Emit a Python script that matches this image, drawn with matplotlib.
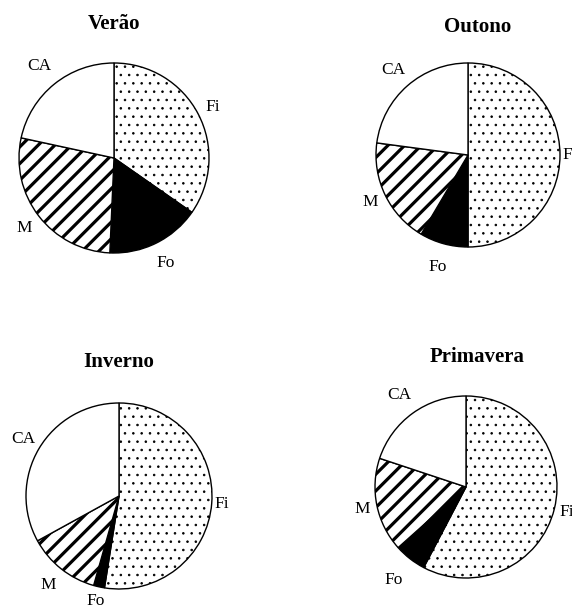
import numpy as np
import matplotlib
matplotlib.use('Agg')
import matplotlib.pyplot as plt

plt.rcParams['font.family'] = ['Liberation Serif', 'DejaVu Serif']
plt.rcParams['hatch.linewidth'] = 0.6

# parts of each pie, clockwise from 12 o'clock (percent)
parts = ['Fi', 'Fo', 'M', 'CA']
verao = [34.7, 16.0, 27.7, 21.6]
outono = [50.0, 8.5, 18.6, 22.9]
inverno = [52.5, 1.9, 12.6, 33.0]
primavera = [57.7, 5.7, 16.7, 19.9]
seasons = ['Verão', 'Outono', 'Inverno', 'Primavera']

# styles
faces = ['white', 'black', 'white', 'white']
hatches = ['..', None, '//', None]
hatch_lw = [0.6, 1.0, 2.3, 1.0]

# layout (pixels): pie centre, radius, title offset, label distances
W, H = 572, 611
centres = [(114, 158), (468, 155), (119, 496), (466, 487)]
radii = [95, 92, 93, 91]
title_pos = [(0.0, 1.41), (0.11, 1.39), (0.0, 1.44), (0.12, 1.43)]
label_dist = [[1.17, 1.23, 1.2, 1.25],
              [1.11, 1.26, 1.18, 1.23],
              [1.11, 1.16, 1.23, 1.2],
              [1.14, 1.29, 1.17, 1.25]]


def main():
    fig = plt.figure(figsize=(W / 100, H / 100), dpi=100)
    data = [verao, outono, inverno, primavera]

    for i, vals in enumerate(data):
        cx, cy = centres[i]
        r = radii[i]
        ax = fig.add_axes([(cx - r) / W, (H - cy - r) / H, 2 * r / W, 2 * r / H])
        wedges, _ = ax.pie(vals, startangle=90, counterclock=False,
                           colors=faces,
                           wedgeprops=dict(edgecolor='black', linewidth=1.0))
        for w, h, lw in zip(wedges, hatches, hatch_lw):
            if h:
                w.set_hatch(h)
                if hasattr(w, 'set_hatch_linewidth'):
                    w.set_hatch_linewidth(lw)
        ax.set_xlim(-1, 1)
        ax.set_ylim(-1, 1)
        ax.set_aspect('equal')
        ax.axis('off')

        # labels at the middle of each wedge
        for w, name, d in zip(wedges, parts, label_dist[i]):
            ang = np.deg2rad((w.theta1 + w.theta2) / 2)
            ax.text(d * np.cos(ang), d * np.sin(ang), name, fontsize=12.5,
                    ha='center', va='center', clip_on=False)

        tx, ty = title_pos[i]
        ax.text(tx, ty, seasons[i], fontsize=15, fontweight='bold',
                ha='center', va='center', clip_on=False)

    fig.savefig('out.png', dpi=100)


if __name__ == '__main__':
    main()
